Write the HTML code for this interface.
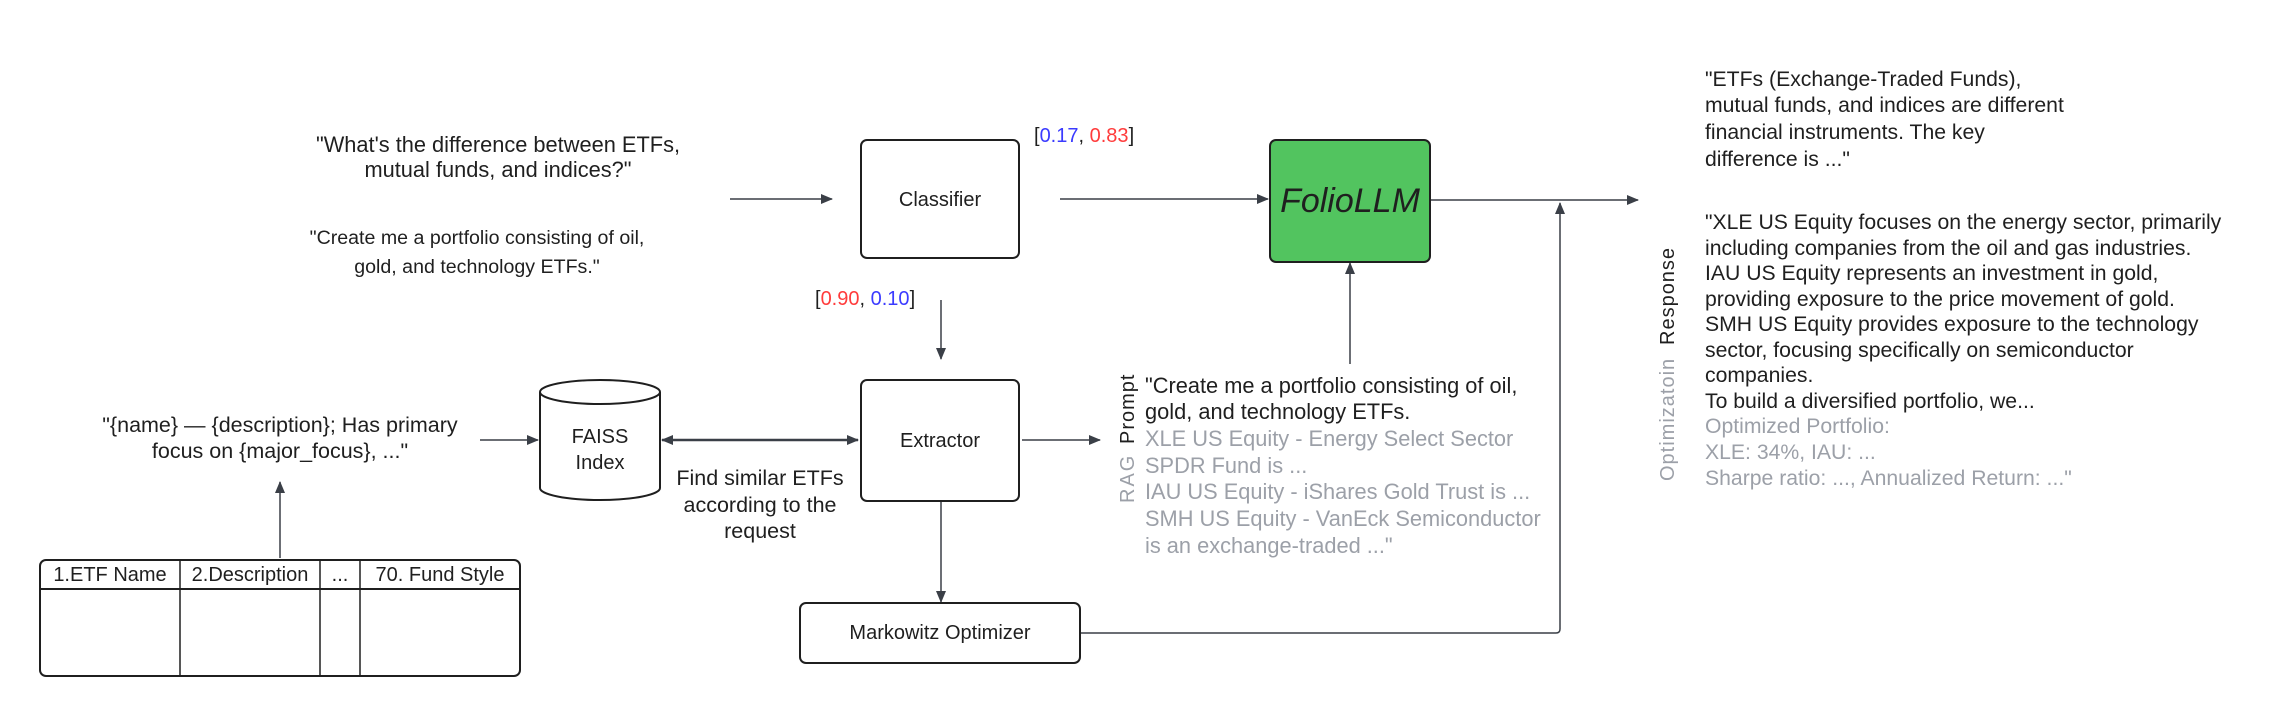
<!DOCTYPE html>
<html><head><meta charset="utf-8"><style>
html,body{margin:0;padding:0;background:#fff;}
svg{display:block;font-family:"Liberation Sans",sans-serif;}
</style></head><body>
<svg width="2280" height="716" viewBox="0 0 2280 716" xmlns="http://www.w3.org/2000/svg">
<defs>
<marker id="a" markerWidth="12" markerHeight="10" refX="11" refY="5" orient="auto" markerUnits="userSpaceOnUse">
<path d="M0,0 L12,5 L0,10 z" fill="#3a3f47"/></marker>
<marker id="b" markerWidth="12" markerHeight="10" refX="1" refY="5" orient="auto" markerUnits="userSpaceOnUse">
<path d="M12,0 L0,5 L12,10 z" fill="#3a3f47"/></marker>
</defs>
<g fill="#1f1f1f">
<text x="498" y="152" text-anchor="middle" font-size="21.8">"What's the difference between ETFs,</text>
<text x="498" y="177" text-anchor="middle" font-size="21.8">mutual funds, and indices?"</text>
<text x="477" y="244" text-anchor="middle" font-size="19.6">"Create me a portfolio consisting of oil,</text>
<text x="477" y="273" text-anchor="middle" font-size="19.6">gold, and technology ETFs."</text>
</g>
<g stroke="#3a3f47" stroke-width="1.5" fill="none">
<line x1="730" y1="199" x2="832" y2="199" marker-end="url(#a)"/>
<line x1="1060" y1="199" x2="1268" y2="199" marker-end="url(#a)"/>
<line x1="1430" y1="200" x2="1638" y2="200" marker-end="url(#a)"/>
<path d="M1080,633 L1556,633 Q1560,633 1560,629 L1560,203" marker-end="url(#a)"/>
<line x1="1350" y1="364" x2="1350" y2="263" marker-end="url(#a)"/>
<line x1="941" y1="300" x2="941" y2="359" marker-end="url(#a)"/>
<line x1="941" y1="501" x2="941" y2="602" marker-end="url(#a)"/>
<line x1="662" y1="440" x2="858" y2="440" marker-start="url(#b)" marker-end="url(#a)" stroke-width="2.5"/>
<line x1="480" y1="440" x2="538" y2="440" marker-end="url(#a)"/>
<line x1="280" y1="558" x2="280" y2="482" marker-end="url(#a)"/>
<line x1="1022" y1="440" x2="1100" y2="440" marker-end="url(#a)"/>
</g>
<g stroke="#1f1f1f" stroke-width="2" fill="#fff">
<rect x="861" y="140" width="158" height="118" rx="6"/>
<rect x="861" y="380" width="158" height="121" rx="6"/>
<rect x="800" y="603" width="280" height="60" rx="6"/>
<rect x="1270" y="140" width="160" height="122" rx="6" fill="#52c45f"/>
<path d="M540,392 L540,488 A60,12 0 0 0 660,488 L660,392"/>
<ellipse cx="600" cy="392" rx="60" ry="12"/>
<rect x="40" y="560" width="480" height="116" rx="6"/>
<line x1="40" y1="589" x2="520" y2="589"/>
<line x1="180" y1="560" x2="180" y2="676" stroke-width="1.5"/>
<line x1="320" y1="560" x2="320" y2="676" stroke-width="1.5"/>
<line x1="360" y1="560" x2="360" y2="676" stroke-width="1.5"/>
</g>
<g font-size="20" fill="#1f1f1f" text-anchor="middle">
<text x="940" y="206">Classifier</text>
<text x="940" y="447">Extractor</text>
<text x="940" y="639">Markowitz Optimizer</text>
<text x="1350" y="212" font-size="34" font-style="italic">FolioLLM</text>
<text x="600" y="443">FAISS</text>
<text x="600" y="469">Index</text>
<text x="760" y="485" font-size="21.5">Find similar ETFs</text>
<text x="760" y="512" font-size="21.5">according to the</text>
<text x="760" y="538" font-size="21.5">request</text>
<text x="280" y="432" font-size="21.5">"{name} — {description}; Has primary</text>
<text x="280" y="458" font-size="21.5">focus on {major_focus}, ..."</text>
<text x="110" y="581">1.ETF Name</text>
<text x="250" y="581">2.Description</text>
<text x="340" y="581">...</text>
<text x="440" y="581">70. Fund Style</text>
</g>
<g font-size="20">
<text x="1034" y="142" fill="#1f1f1f">[<tspan fill="#3b3bff">0.17</tspan>, <tspan fill="#ff3b3b">0.83</tspan>]</text>
<text x="815" y="305" fill="#1f1f1f">[<tspan fill="#ff3b3b">0.90</tspan>, <tspan fill="#3b3bff">0.10</tspan>]</text>
</g>
<g font-size="20">
<text transform="translate(1134,444) rotate(-90)" fill="#1f1f1f" letter-spacing="1">Prompt</text>
<text transform="translate(1134,503) rotate(-90)" fill="#9ca0a8" letter-spacing="2">RAG</text>
<text transform="translate(1674,345) rotate(-90)" fill="#1f1f1f" letter-spacing="1">Response</text>
<text transform="translate(1674,481) rotate(-90)" fill="#9ca0a8" letter-spacing="1">Optimizatoin</text>
</g>
<g font-size="21.8" fill="#1f1f1f">
<text x="1145" y="393">"Create me a portfolio consisting of oil,</text>
<text x="1145" y="419">gold, and technology ETFs.</text>
<g fill="#9ca0a8">
<text x="1145" y="446">XLE US Equity - Energy Select Sector</text>
<text x="1145" y="473">SPDR Fund is ...</text>
<text x="1145" y="499">IAU US Equity - iShares Gold Trust is ...</text>
<text x="1145" y="526">SMH US Equity - VanEck Semiconductor</text>
<text x="1145" y="553">is an exchange-traded ..."</text>
</g>
</g>
<g font-size="21.2" fill="#1f1f1f">
<text x="1705" y="86">"ETFs (Exchange-Traded Funds),</text>
<text x="1705" y="112">mutual funds, and indices are different</text>
<text x="1705" y="139">financial instruments. The key</text>
<text x="1705" y="166">difference is ..."</text>
<text x="1705" y="229">"XLE US Equity focuses on the energy sector, primarily</text>
<text x="1705" y="255">including companies from the oil and gas industries.</text>
<text x="1705" y="280">IAU US Equity represents an investment in gold,</text>
<text x="1705" y="306">providing exposure to the price movement of gold.</text>
<text x="1705" y="331">SMH US Equity provides exposure to the technology</text>
<text x="1705" y="357">sector, focusing specifically on semiconductor</text>
<text x="1705" y="382">companies.</text>
<text x="1705" y="408">To build a diversified portfolio, we...</text>
<g fill="#9ca0a8">
<text x="1705" y="433">Optimized Portfolio:</text>
<text x="1705" y="459">XLE: 34%, IAU: ...</text>
<text x="1705" y="485">Sharpe ratio: ..., Annualized Return: ..."</text>
</g>
</g>
</svg>
</body></html>
